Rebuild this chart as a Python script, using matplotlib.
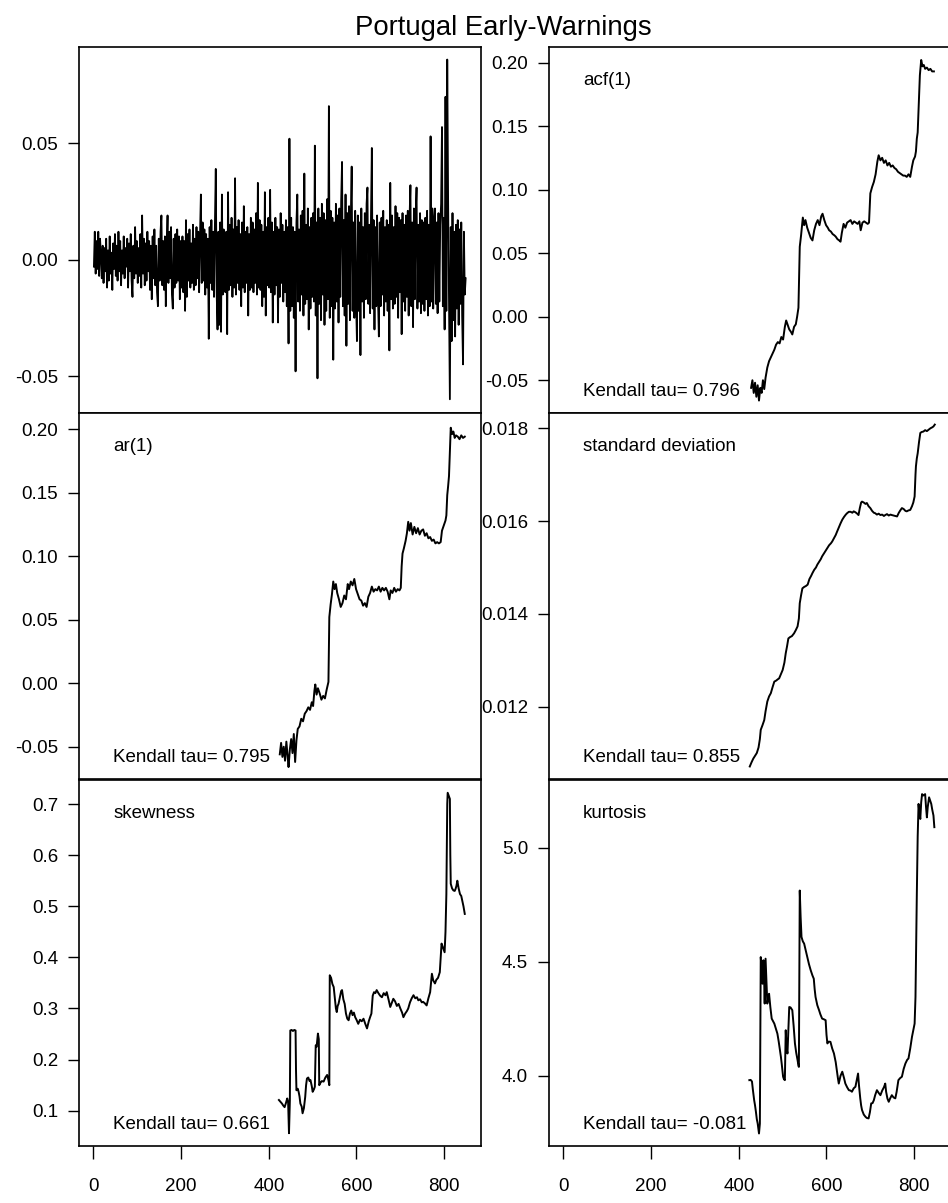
import numpy as np
import matplotlib
matplotlib.use('Agg')
import matplotlib.pyplot as plt

plt.rcParams['font.family'] = ['Liberation Sans', 'DejaVu Sans']
plt.rcParams['axes.unicode_minus'] = False

# ---- data ----
# raw residual series, sampled at every other step, values in units of 1e-3
raw_t = np.arange(1, 850, 2)
raw_milli = [
    -3, 12, -6, 8, -4, 12, -7, 9, 2, -8, 6, -10, 5, -5, 9, -12, 4, -9, 10, -6, 3, -13, 7, -4, 11,
    -7, 6, -9, 12, -5, 8, -11, 4, -6, 10, -8, 5, -3, 9, -12, 7, -5, 11, -9, -16, 6, -8, 14, -6, 8,
    -10, 5, -7, 11, -12, 19, -6, 9, -11, 7, -9, 12, -5, 8, -13, 6, -17, 10, -8, 13, -11, 6, -14, -20, 9,
    -9, 12, 19, -11, 8, -13, 10, -20, 6, 19, -10, 12, -8, 14, -15, -21, 9, -12, 11, -10, 13, -9, 10, -17, 8,
    -12, 10, -14, 8, -22, 17, -16, 11, -9, 13, -12, 7, -10, 15, -13, 9, -11, 14, -8, 12, -14, 10, 28, -10, 16,
    -9, 13, -15, 11, -12, 9, -34, 14, -10, 17, -13, 12, -16, 15, 39, -14, -30, 12, -28, 16, -31, 28, -15, 13, -11,
    -14, 12, -32, 29, -13, 15, -11, 18, -16, 13, -12, 35, -15, 14, -10, 17, -13, 11, -20, 16, -12, 23, -14, 12, -10,
    14, -24, 11, -13, 18, -12, 16, -14, 13, -10, 20, -15, 33, -12, 17, -13, 15, -20, 12, -16, 29, -24, 14, -11, 18,
    -12, 30, -14, 16, -27, 12, -15, 18, -11, 14, -27, 13, -16, 20, -10, 15, -18, 12, -14, 17, -20, 14, -36, 52, -22,
    18, -20, 14, -25, 12, -48, 16, 28, -18, 13, -22, 19, -15, 21, -24, 37, -19, 15, -17, 22, -30, 14, -21, 18, -16,
    20, -18, 49, -24, 16, -51, 22, -19, 18, -26, 24, -15, 20, -28, 17, -22, 26, -17, 66, -25, 21, -20, 18, -43, 16,
    -21, 24, -18, 19, -27, 22, -16, 25, 42, -20, 17, -24, 28, -37, 20, -19, 23, -26, 18, 40, -22, 16, -25, 21, -18,
    -35, 19, -22, 16, -41, 22, -18, 14, -25, 20, -17, 24, 31, -19, 15, -23, 18, 48, -21, 17, -30, 14, -20, 19, -16,
    -33, 16, -20, 18, -15, 21, -24, 14, -18, 17, -22, 15, -39, 33, -17, 19, -21, 14, -19, 23, -16, 20, -25, 18, -14,
    17, -32, 20, -18, 15, -22, 19, -16, 21, -24, 18, 32, -20, 16, -29, 22, -17, 19, 31, -21, 15, -18, 20, -23, 17,
    -19, 16, -22, 18, -17, 21, -24, 15, -20, 53, -18, 22, -21, 17, 22, -19, 16, -23, 20, -18, 15, 24, 57, -20, 18,
    -30, 70, -22, 86, 25, -18, -60, 14, -35, 20, -26, 12, -33, 15, -21, 17, -28, 13, -19, 16, -24, -45, 12, -15, -8,
]

acf1 = [(428,-0.056),(431,-0.050),(434,-0.060),(437,-0.052),(440,-0.063),(443,-0.054),(446,-0.066),(449,-0.056),
        (452,-0.060),(455,-0.050),(458,-0.057),(461,-0.048),(465,-0.040),(469,-0.035),(473,-0.032),(477,-0.029),
        (481,-0.026),(485,-0.022),(489,-0.020),(493,-0.021),(497,-0.016),(501,-0.018),(505,-0.008),(508,-0.003),
        (511,-0.006),(515,-0.010),(519,-0.012),(522,-0.014),(526,-0.008),(530,-0.006),(533,0.000),(536,0.007),
        (539,0.055),(542,0.064),(546,0.078),(549,0.072),(552,0.076),(556,0.070),(560,0.066),(564,0.062),
        (568,0.060),(572,0.068),(576,0.073),(580,0.076),(584,0.072),(588,0.079),(591,0.081),(595,0.076),
        (599,0.072),(603,0.070),(606,0.068),(610,0.067),(614,0.065),(618,0.064),(621,0.063),(625,0.061),
        (629,0.060),(632,0.059),(635,0.066),(639,0.073),(643,0.070),(647,0.074),(651,0.075),(655,0.076),
        (659,0.073),(663,0.075),(667,0.074),(671,0.073),(675,0.075),(678,0.068),(682,0.074),(686,0.075),
        (690,0.074),(694,0.073),(697,0.074),(700,0.097),(704,0.102),(708,0.106),(712,0.112),(716,0.122),
        (719,0.127),(723,0.123),(727,0.125),(731,0.121),(735,0.123),(739,0.119),(743,0.121),(747,0.118),
        (751,0.119),(755,0.117),(759,0.116),(763,0.114),(767,0.113),(771,0.112),(775,0.111),(779,0.111),
        (783,0.110),(787,0.112),(791,0.110),(795,0.118),(798,0.123),(802,0.126),(804,0.130),(806,0.140),
        (808,0.145),(810,0.163),(813,0.190),(816,0.202),(819,0.197),(822,0.198),(825,0.195),(829,0.196),
        (833,0.194),(837,0.195),(841,0.193),(845,0.193)]

ar1 = [(425,-0.056),(428,-0.047),(431,-0.058),(434,-0.050),(437,-0.061),(440,-0.046),(443,-0.058),(445,-0.066),
       (448,-0.052),(451,-0.044),(454,-0.055),(457,-0.040),(460,-0.062),(463,-0.045),(466,-0.036),(470,-0.034),
       (474,-0.028),(478,-0.030),(482,-0.024),(486,-0.022),(490,-0.019),(494,-0.021),(498,-0.015),(501,-0.018),
       (504,-0.006),(506,-0.001),(509,-0.009),(512,-0.004),(516,-0.008),(520,-0.013),(524,-0.010),(528,-0.012),
       (532,-0.005),(536,0.001),(538,0.052),(541,0.062),(544,0.070),(547,0.080),(550,0.074),(553,0.078),
       (556,0.071),(560,0.066),(564,0.060),(568,0.063),(572,0.069),(576,0.066),(580,0.078),(583,0.074),
       (587,0.080),(591,0.077),(595,0.082),(599,0.074),(603,0.070),(607,0.066),(611,0.065),(615,0.061),
       (619,0.063),(623,0.060),(627,0.068),(631,0.071),(635,0.076),(639,0.072),(643,0.074),(647,0.073),
       (651,0.076),(655,0.072),(659,0.075),(663,0.073),(667,0.075),(671,0.072),(675,0.066),(678,0.073),
       (682,0.071),(686,0.075),(690,0.072),(694,0.074),(698,0.073),(701,0.075),(703,0.092),(705,0.102),
       (708,0.106),(712,0.112),(715,0.118),(718,0.127),(721,0.120),(724,0.126),(728,0.117),(732,0.123),
       (736,0.118),(740,0.122),(744,0.117),(748,0.120),(752,0.121),(756,0.116),(760,0.118),(764,0.114),
       (768,0.115),(772,0.112),(776,0.113),(780,0.110),(784,0.111),(788,0.110),(792,0.111),(795,0.120),
       (799,0.124),(803,0.128),(805,0.132),(807,0.148),(809,0.155),(811,0.163),(813,0.182),(815,0.201),
       (818,0.196),(821,0.198),(824,0.193),(827,0.195),(831,0.194),(835,0.192),(839,0.195),(843,0.193),(847,0.194)]

sd = [(425,0.01071),(429,0.01080),(433,0.01088),(437,0.01094),(441,0.01100),(445,0.01112),(448,0.01130),
      (450,0.01150),(454,0.01160),(458,0.01171),(461,0.01190),(465,0.01211),(469,0.01222),(473,0.01229),
      (477,0.01242),(481,0.01254),(485,0.01256),(489,0.01259),(492,0.01261),(496,0.01270),(500,0.01279),
      (504,0.01295),(507,0.01315),(510,0.01330),(513,0.01347),(517,0.01350),(521,0.01352),(526,0.01358),
      (530,0.01365),(534,0.01373),(537,0.01390),(539,0.01423),(542,0.01440),(545,0.01455),(549,0.01458),
      (553,0.01460),(557,0.01463),(561,0.01475),(565,0.01482),(568,0.01488),(572,0.01495),(576,0.01500),
      (579,0.01506),(583,0.01512),(587,0.01518),(590,0.01524),(594,0.01530),(598,0.01536),(602,0.01542),
      (606,0.01548),(610,0.01552),(613,0.01556),(617,0.01563),(621,0.01570),(624,0.01577),(628,0.01586),
      (632,0.01595),(636,0.01603),(640,0.01609),(644,0.01614),(647,0.01617),(651,0.01620),(655,0.01620),
      (659,0.01618),(662,0.01621),(666,0.01619),(670,0.01616),(673,0.01613),(676,0.01628),(679,0.01640),
      (681,0.01642),(685,0.01640),(689,0.01637),(692,0.01639),(696,0.01632),(700,0.01628),(704,0.01622),
      (708,0.01618),(711,0.01617),(715,0.01614),(719,0.01616),(723,0.01613),(727,0.01614),(731,0.01611),
      (734,0.01613),(738,0.01615),(742,0.01612),(746,0.01614),(749,0.01613),(753,0.01612),(757,0.01611),
      (761,0.01610),(765,0.01618),(769,0.01624),(772,0.01628),(776,0.01626),(780,0.01622),(783,0.01621),
      (787,0.01623),(791,0.01624),(795,0.01632),(798,0.01640),(801,0.01653),(803,0.01700),(804,0.01718),
      (806,0.01735),(808,0.01746),(811,0.01770),(814,0.01790),(817,0.01792),(821,0.01793),(825,0.01796),
      (829,0.01794),(833,0.01797),(837,0.01800),(841,0.01802),(844,0.01804),(847,0.01808)]

skew = [(423,0.121),(426,0.118),(430,0.114),(433,0.110),(436,0.107),(439,0.115),(442,0.124),(444,0.118),
        (446,0.056),(447,0.090),(448,0.120),(449,0.257),(452,0.258),(455,0.256),(458,0.258),(461,0.257),
        (462,0.180),(463,0.140),(466,0.143),(468,0.137),(470,0.128),(472,0.114),(475,0.108),(477,0.095),
        (480,0.105),(483,0.127),(485,0.150),(487,0.163),(490,0.165),(493,0.158),(495,0.160),(498,0.148),
        (500,0.137),(503,0.142),(505,0.147),(507,0.228),(509,0.225),(512,0.251),(514,0.240),(515,0.150),
        (518,0.155),(521,0.158),(525,0.157),(529,0.165),(533,0.170),(536,0.160),(538,0.150),(539,0.365),
        (542,0.360),(545,0.348),(548,0.342),(551,0.318),(553,0.300),(555,0.293),(557,0.305),(559,0.309),
        (562,0.322),(565,0.334),(567,0.336),(570,0.318),(573,0.309),(576,0.290),(579,0.280),(582,0.277),
        (585,0.290),(588,0.296),(591,0.287),(594,0.292),(597,0.283),(600,0.278),(604,0.270),(608,0.278),
        (612,0.275),(616,0.280),(620,0.270),(624,0.261),(628,0.275),(631,0.283),(634,0.290),(637,0.325),
        (640,0.332),(643,0.330),(646,0.336),(650,0.330),(654,0.325),(658,0.322),(662,0.330),(666,0.326),
        (669,0.332),(673,0.318),(677,0.303),(681,0.312),(684,0.319),(688,0.314),(692,0.305),(696,0.309),
        (700,0.300),(704,0.292),(707,0.283),(711,0.290),(715,0.295),(718,0.300),(722,0.312),(726,0.320),
        (730,0.326),(734,0.320),(738,0.322),(741,0.316),(745,0.318),(749,0.312),(752,0.313),(756,0.310),
        (760,0.306),(764,0.320),(768,0.332),(770,0.350),(772,0.368),(775,0.355),(779,0.349),(782,0.356),
        (786,0.360),(790,0.371),(792,0.400),(794,0.427),(797,0.420),(801,0.410),(803,0.450),(805,0.524),
        (807,0.700),(808,0.722),(811,0.715),(813,0.710),(814,0.600),(815,0.544),(818,0.535),(821,0.531),
        (824,0.530),(826,0.534),(828,0.540),(830,0.550),(833,0.535),(836,0.524),(839,0.520),(842,0.508),
        (844,0.500),(847,0.485)]

kurt = [(424,3.981),(427,3.982),(430,3.975),(432,3.940),(435,3.893),(437,3.870),(439,3.842),(441,3.810),
        (443,3.791),(445,3.760),(446,3.747),(448,3.790),(450,4.521),(452,4.470),(454,4.404),(456,4.507),
        (458,4.400),(459,4.317),(461,4.514),(463,4.420),(465,4.317),(467,4.340),(469,4.360),(472,4.300),
        (475,4.251),(478,4.240),(481,4.229),(484,4.210),(488,4.185),(491,4.150),(494,4.110),(496,4.083),
        (498,4.050),(501,3.996),(503,3.985),(505,3.981),(507,4.200),(509,4.120),(511,4.098),(513,4.200),
        (515,4.302),(518,4.300),(522,4.288),(525,4.220),(528,4.142),(531,4.100),(534,4.069),(536,4.045),
        (537,4.039),(539,4.813),(541,4.696),(543,4.609),(546,4.590),(549,4.580),(552,4.555),(556,4.521),
        (560,4.490),(564,4.463),(568,4.440),(571,4.426),(573,4.380),(575,4.346),(579,4.310),(583,4.288),
        (586,4.270),(590,4.251),(594,4.248),(598,4.244),(600,4.180),(602,4.142),(605,4.150),(609,4.149),
        (613,4.120),(617,4.098),(621,4.060),(624,4.018),(626,3.990),(628,3.966),(632,4.000),(636,4.018),
        (640,3.990),(643,3.966),(647,3.950),(651,3.937),(655,3.935),(658,3.930),(662,3.945),(666,3.952),
        (670,3.990),(672,4.010),(674,3.960),(677,3.901),(679,3.870),(681,3.850),(685,3.830),(689,3.820),
        (692,3.815),(696,3.813),(699,3.840),(702,3.879),(705,3.880),(708,3.893),(711,3.915),(715,3.937),
        (719,3.925),(723,3.915),(727,3.935),(731,3.950),(734,3.966),(736,3.930),(739,3.900),(742,3.886),
        (745,3.900),(749,3.915),(753,3.905),(757,3.901),(760,3.930),(764,3.981),(768,3.990),(772,3.996),
        (776,4.030),(780,4.054),(784,4.070),(787,4.076),(791,4.120),(795,4.171),(798,4.200),(801,4.229),
        (803,4.346),(804,4.500),(806,4.791),(808,5.050),(810,5.193),(812,5.150),(814,5.127),(816,5.200),
        (818,5.236),(821,5.230),(825,5.236),(827,5.180),(829,5.134),(831,5.180),(834,5.222),(836,5.210),
        (839,5.193),(841,5.170),(844,5.142),(846,5.091)]

kendall = {'acf(1)': '0.796', 'ar(1)': '0.795', 'standard deviation': '0.855',
           'skewness': '0.661', 'kurtosis': '-0.081'}

xticks = [0, 200, 400, 600, 800]

# ---- figure ----
fig = plt.figure(figsize=(9.48, 12.03), dpi=100)
W = 402 / 948.0
H = 366 / 1203.0
colx = [79 / 948.0, 549 / 948.0]
rowy = [1 - 413 / 1203.0, 1 - 779 / 1203.0, 1 - 1146 / 1203.0]
XLIM = (-33, 884)
FS = 13.5


def panel(col, row, yticks, ylabels, ylim, bottom=False):
    ax = fig.add_axes([colx[col], rowy[row], W, H])
    ax.set_xlim(*XLIM)
    ax.set_ylim(*ylim)
    ax.set_yticks(yticks)
    ax.set_yticklabels(ylabels)
    ax.tick_params(axis='y', direction='out', length=8, width=1.0, pad=7, labelsize=FS)
    if bottom:
        ax.set_xticks(xticks)
        ax.set_xticklabels([str(v) for v in xticks])
        ax.tick_params(axis='x', direction='out', length=9, width=1.0, pad=14, labelsize=FS)
    else:
        ax.set_xticks([])
    for s in ax.spines.values():
        s.set_linewidth(1.2)
    return ax


def label(ax, name):
    ax.text(0.085, 0.895, name, transform=ax.transAxes, fontsize=FS, va='baseline', ha='left')
    ax.text(0.085, 0.046, 'Kendall tau= ' + kendall[name], transform=ax.transAxes,
            fontsize=FS, va='baseline', ha='left')


def draw(ax, pts):
    xs, ys = zip(*pts)
    ax.plot(xs, ys, color='black', lw=1.4)


# raw series
ax = panel(0, 0, [-0.05, 0.0, 0.05], ['-0.05', '0.00', '0.05'], (-0.0659, 0.0914))
ax.plot(raw_t, np.array(raw_milli) * 0.001, color='black', lw=1.3)

ax = panel(1, 0, [-0.05, 0.0, 0.05, 0.10, 0.15, 0.20],
           ['-0.05', '0.00', '0.05', '0.10', '0.15', '0.20'], (-0.0758, 0.2122))
draw(ax, acf1)
label(ax, 'acf(1)')

ax = panel(0, 1, [-0.05, 0.0, 0.05, 0.10, 0.15, 0.20],
           ['-0.05', '0.00', '0.05', '0.10', '0.15', '0.20'], (-0.0754, 0.2126))
draw(ax, ar1)
label(ax, 'ar(1)')

ax = panel(1, 1, [0.012, 0.014, 0.016, 0.018], ['0.012', '0.014', '0.016', '0.018'], (0.01044, 0.01833))
draw(ax, sd)
label(ax, 'standard deviation')

ax = panel(0, 2, [0.1, 0.2, 0.3, 0.4, 0.5, 0.6, 0.7],
           ['0.1', '0.2', '0.3', '0.4', '0.5', '0.6', '0.7'], (0.031, 0.747), bottom=True)
draw(ax, skew)
label(ax, 'skewness')

ax = panel(1, 2, [4.0, 4.5, 5.0], ['4.0', '4.5', '5.0'], (3.692, 5.298), bottom=True)
draw(ax, kurt)
label(ax, 'kurtosis')

fig.text(0.531, 0.9767, 'Portugal Early-Warnings', ha='center', va='center', fontsize=19.8)

fig.savefig('out.png', dpi=100)
